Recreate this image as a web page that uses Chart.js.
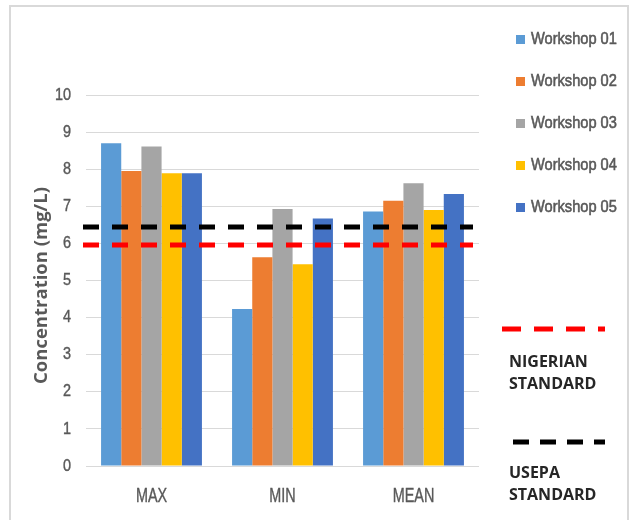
<!DOCTYPE html>
<html>
<head>
<meta charset="utf-8">
<script src="https://cdn.jsdelivr.net/npm/chart.js@4/dist/chart.umd.min.js"></script>
<style>
  html, body { margin: 0; padding: 0; background: #ffffff; }
  #wrap { position: relative; width: 631px; height: 520px; }
</style>
</head>
<body>
<div id="wrap"><canvas id="chart" width="631" height="520"></canvas></div>
<script>
// Dissolved concentration per workshop (mg/L)
const categories = ['MAX', 'MIN', 'MEAN'];
const workshopNames = ['Workshop 01', 'Workshop 02', 'Workshop 03', 'Workshop 04', 'Workshop 05'];
const workshop01 = [8.70, 4.23, 6.86];
const workshop02 = [7.95, 5.63, 7.15];
const workshop03 = [8.61, 6.93, 7.62];
const workshop04 = [7.89, 5.44, 6.90];
const workshop05 = [7.89, 6.67, 7.33];
const workshopColors = ['#5B9BD5', '#ED7D31', '#A5A5A5', '#FFC000', '#4472C4'];

// Reference limits drawn as dashed horizontal lines
const standardNames = [['NIGERIAN', 'STANDARD'], ['USEPA', 'STANDARD']];
const standardValues = [5.95, 6.45];
const standardColors = ['#FF0000', '#000000'];

const yTicks = [0, 1, 2, 3, 4, 5, 6, 7, 8, 9, 10];
const yTitle = 'Concentration (mg/L)';

const SANS = "'Liberation Sans', Arial, sans-serif";
const seriesValues = [workshop01, workshop02, workshop03, workshop04, workshop05];

// Horizontally condensed text (narrow UI face look), lightly emboldened
function narrowText(ctx, text, x, y, sx, align, weight) {
  ctx.save();
  ctx.translate(x, y);
  ctx.scale(sx, 1);
  ctx.textAlign = align;
  ctx.fillText(text, 0, 0);
  if (weight) {
    ctx.strokeStyle = ctx.fillStyle;
    ctx.lineWidth = weight;
    ctx.strokeText(text, 0, 0);
  }
  ctx.restore();
}

const decorations = {
  id: 'decorations',
  beforeDraw(chart) {
    const ctx = chart.ctx;
    ctx.save();
    ctx.strokeStyle = '#D9D9D9';
    ctx.lineWidth = 2;
    ctx.strokeRect(10, 6, 618, 540);
    ctx.restore();
  },
  afterDatasetsDraw(chart) {
    const ctx = chart.ctx;
    const area = chart.chartArea;
    const y = chart.scales.y;
    ctx.save();
    ctx.lineWidth = 5;
    ctx.setLineDash([16, 13]);
    standardValues.forEach((v, i) => {
      const py = Math.round(y.getPixelForValue(v));
      ctx.strokeStyle = standardColors[i];
      ctx.beginPath();
      ctx.moveTo(area.left - 3, py);
      ctx.lineTo(area.right - 6, py);
      ctx.stroke();
    });
    ctx.restore();
  },
  afterDraw(chart) {
    const ctx = chart.ctx;
    const xs = chart.scales.x;
    const ys = chart.scales.y;
    ctx.save();
    ctx.textBaseline = 'middle';
    ctx.fillStyle = '#595959';

    // axis tick labels
    ctx.font = '20px ' + SANS;
    chart.data.labels.forEach((lab, i) => {
      narrowText(ctx, lab, xs.getPixelForTick(i), 496, 0.72, 'center', 0.4);
    });
    ctx.font = '17px ' + SANS;
    yTicks.forEach(v => {
      narrowText(ctx, String(v), 71, ys.getPixelForValue(v), 0.85, 'right', 0.4);
    });

    // y axis title
    ctx.save();
    ctx.translate(42, (chart.chartArea.top + chart.chartArea.bottom) / 2 + 5);
    ctx.rotate(-Math.PI / 2);
    ctx.textAlign = 'center';
    ctx.font = "bold 18.5px 'Open Sans', sans-serif";
    ctx.fillText(yTitle, 0, 0);
    ctx.restore();

    // workshop legend
    ctx.font = '17px ' + SANS;
    chart.data.datasets.forEach((ds, i) => {
      const cy = 39 + i * 42.2;
      ctx.fillStyle = ds.backgroundColor;
      ctx.fillRect(516, Math.round(cy - 4.5), 9, 9);
      ctx.fillStyle = '#595959';
      narrowText(ctx, ds.label, 531, cy, 0.86, 'left', 0.6);
    });

    // standards legend
    const dashY = [329, 442];
    const dashStart = [502, 513];
    const dashPattern = [[19, 13], [16, 11]];
    const textY = [[362, 384], [473, 495]];
    ctx.textAlign = 'left';
    standardNames.forEach((lines, i) => {
      ctx.lineWidth = 5;
      ctx.setLineDash(dashPattern[i]);
      ctx.strokeStyle = standardColors[i];
      ctx.beginPath();
      ctx.moveTo(dashStart[i], dashY[i]);
      ctx.lineTo(605, dashY[i]);
      ctx.stroke();
      ctx.setLineDash([]);
      ctx.fillStyle = '#262626';
      ctx.font = "bold 16px 'Open Sans', sans-serif";
      lines.forEach((t, k) => ctx.fillText(t, 509, textY[i][k]));
    });
    ctx.restore();
  }
};

new Chart(document.getElementById('chart'), {
  type: 'bar',
  data: {
    labels: categories,
    datasets: seriesValues.map((vals, i) => ({
      label: workshopNames[i],
      data: vals,
      backgroundColor: workshopColors[i],
      borderWidth: 0,
      categoryPercentage: 0.77,
      barPercentage: 1.0
    }))
  },
  options: {
    responsive: false,
    animation: false,
    devicePixelRatio: 1,
    layout: { padding: { top: 95, right: 152, bottom: 0, left: 0 } },
    plugins: {
      legend: { display: false },
      tooltip: { enabled: false }
    },
    scales: {
      x: {
        grid: { display: false, drawTicks: false },
        border: { display: false },
        ticks: { display: false },
        afterFit(s) { s.height = 54; }
      },
      y: {
        min: 0,
        max: 10,
        afterBuildTicks(s) { s.ticks = yTicks.map(v => ({ value: v })); },
        grid: { color: '#D9D9D9', lineWidth: 1, drawTicks: false },
        border: { display: false },
        ticks: { display: false },
        afterFit(s) { s.width = 86; }
      }
    }
  },
  plugins: [decorations]
});
</script>
</body>
</html>
